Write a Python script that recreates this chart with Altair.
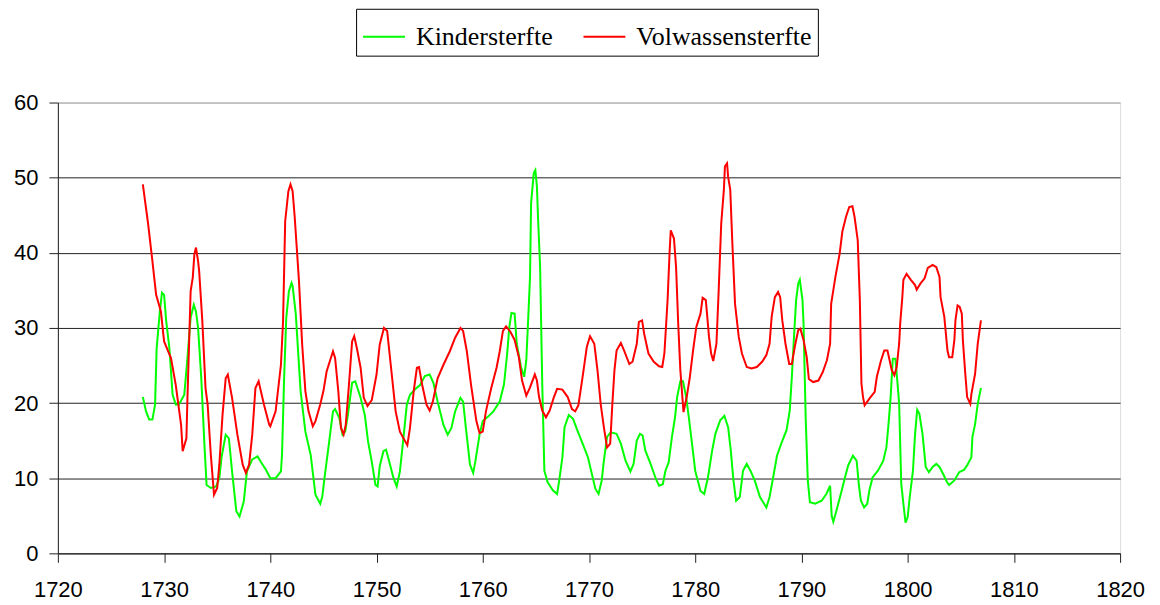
import altair as alt
import pandas as pd

# Kindersterfte (green)
kinder_year = [1728.0, 1728.3, 1728.6, 1728.9, 1729.15, 1729.3, 1729.6, 1729.8, 1730.0, 1730.2, 1730.5, 1730.8,
               1731.1, 1731.4, 1731.9, 1732.2, 1732.5, 1732.8, 1733.0, 1733.2, 1733.5, 1733.8, 1734.0, 1734.4,
               1734.9, 1735.2, 1735.4, 1735.8, 1736.1, 1736.4, 1736.8, 1737.1, 1737.5, 1737.8, 1738.3, 1738.8,
               1739.1, 1739.6, 1740.0, 1740.5, 1741.0, 1741.1, 1741.3, 1741.5, 1741.75, 1742.0, 1742.1, 1742.4,
               1742.85, 1743.3, 1743.8, 1744.25, 1744.7, 1744.9, 1745.1, 1745.5, 1745.9, 1746.1, 1746.5, 1746.8,
               1747.05, 1747.3, 1747.7, 1748.0, 1748.5, 1748.9, 1749.2, 1749.55, 1749.9, 1750.1, 1750.3, 1750.65,
               1750.9, 1751.2, 1751.6, 1751.9, 1752.2, 1752.5, 1752.85, 1753.15, 1753.6, 1754.1, 1754.55, 1755.0,
               1755.35, 1755.75, 1756.3, 1756.7, 1757.05, 1757.4, 1757.9, 1758.15, 1758.45, 1758.8, 1759.1, 1759.3,
               1759.7, 1760.0, 1760.5, 1761.0, 1761.6, 1762.0, 1762.3, 1762.5, 1762.7, 1763.0, 1763.2, 1763.6,
               1763.9, 1764.1, 1764.3, 1764.45, 1764.55, 1764.8, 1764.95, 1765.1, 1765.2, 1765.4, 1765.6, 1765.8,
               1766.1, 1766.6, 1767.0, 1767.2, 1767.5, 1767.7, 1768.1, 1768.5, 1768.9, 1769.4, 1769.9, 1770.3,
               1770.6, 1770.9, 1771.2, 1771.4, 1771.7, 1772.05, 1772.6, 1773.0, 1773.45, 1773.9, 1774.2, 1774.5,
               1774.8, 1775.05, 1775.3, 1775.8, 1776.3, 1776.6, 1776.95, 1777.2, 1777.5, 1777.8, 1778.1, 1778.3,
               1778.6, 1778.85, 1779.15, 1779.4, 1779.7, 1780.0, 1780.5, 1780.85, 1781.2, 1781.6, 1781.9, 1782.35,
               1782.75, 1783.1, 1783.35, 1783.6, 1783.85, 1784.2, 1784.5, 1784.85, 1785.2, 1785.6, 1786.1, 1786.7,
               1787.0, 1787.4, 1787.7, 1788.1, 1788.6, 1788.9, 1789.1, 1789.3, 1789.5, 1789.7, 1789.85, 1790.1,
               1790.2, 1790.4, 1790.6, 1790.8, 1791.3, 1791.9, 1792.35, 1792.7, 1792.85, 1793.0, 1793.3, 1793.8,
               1794.1, 1794.4, 1794.85, 1795.2, 1795.4, 1795.6, 1795.9, 1796.2, 1796.4, 1796.7, 1797.2, 1797.7,
               1798.0, 1798.2, 1798.4, 1798.6, 1798.85, 1799.1, 1799.2, 1799.4, 1799.6, 1799.8, 1800.0, 1800.2,
               1800.5, 1800.7, 1800.9, 1801.1, 1801.4, 1801.7, 1802.0, 1802.35, 1802.7, 1803.0, 1803.4, 1803.7,
               1803.9, 1804.4, 1804.85, 1805.3, 1805.6, 1806.0, 1806.1, 1806.35, 1806.6, 1806.9]
kinder_value = [20.8, 18.9, 17.8, 17.8, 19.8, 27.3, 32.2, 34.7, 34.4, 30.9, 27.3, 21.1,
                19.8, 19.8, 21.1, 26.0, 31.4, 33.1, 32.2, 30.0, 23.3, 14.4, 9.1, 8.7,
                8.9, 10.0, 12.7, 15.8, 15.3, 10.9, 5.6, 4.9, 6.9, 10.9, 12.5, 12.9,
                12.2, 11.1, 10.0, 10.0, 10.9, 13.1, 23.3, 31.3, 34.9, 36.0, 35.6, 31.8,
                21.6, 16.2, 13.1, 7.8, 6.6, 7.6, 10.0, 14.4, 18.9, 19.2, 18.0, 15.8,
                16.2, 18.4, 22.7, 22.9, 20.7, 18.4, 14.9, 12.2, 9.1, 8.9, 11.6, 13.6,
                13.8, 12.2, 10.0, 8.9, 10.9, 14.9, 19.8, 21.1, 21.8, 22.4, 23.6, 23.8,
                22.7, 20.2, 17.1, 15.8, 16.7, 18.9, 20.7, 20.2, 16.2, 11.8, 10.7, 12.2,
                15.8, 17.6, 18.2, 18.9, 20.2, 22.5, 26.6, 30.1, 32.0, 31.9, 27.9, 24.8,
                23.5, 25.7, 31.9, 36.8, 46.6, 50.6, 51.0, 48.8, 44.8, 38.1, 22.6, 11.0,
                9.5, 8.4, 7.9, 9.7, 12.8, 16.8, 18.4, 17.9, 16.4, 14.6, 12.8, 10.4,
                8.6, 7.9, 9.7, 12.3, 15.5, 16.1, 15.9, 14.6, 12.3, 10.9, 11.9, 15.0,
                15.9, 15.7, 13.7, 11.9, 9.9, 9.0, 9.2, 11.0, 12.1, 15.4, 18.1, 20.8,
                22.9, 22.9, 20.8, 18.1, 14.6, 11.0, 8.3, 7.9, 10.1, 13.7, 15.9, 17.7,
                18.3, 16.8, 13.7, 9.7, 7.0, 7.5, 11.0, 11.9, 11.0, 9.7, 7.5, 6.1,
                7.5, 10.6, 13.0, 14.6, 16.4, 19.0, 23.5, 28.8, 33.7, 35.9, 36.4, 33.7,
                30.6, 18.1, 9.7, 6.8, 6.6, 7.0, 7.9, 9.0, 5.0, 4.2, 5.7, 8.4,
                10.1, 11.7, 13.0, 12.3, 9.2, 7.0, 6.1, 6.6, 8.4, 10.1, 11.0, 12.3,
                14.1, 17.2, 20.8, 25.9, 25.9, 21.7, 19.9, 9.2, 6.6, 4.1, 4.8, 7.5,
                11.0, 15.9, 19.1, 18.6, 15.9, 11.5, 10.8, 11.5, 11.9, 11.5, 10.4, 9.5,
                9.1, 9.7, 10.8, 11.1, 11.7, 12.8, 15.5, 17.2, 19.9, 22.0]

# Volwassensterfte (red)
volw_year = [1728.0, 1728.5, 1728.9, 1729.25, 1729.7, 1730.0, 1730.65, 1731.1, 1731.6, 1731.75, 1732.1, 1732.2,
             1732.5, 1732.7, 1732.85, 1733.0, 1733.2, 1733.3, 1733.6, 1733.9, 1734.1, 1734.4, 1734.7, 1735.0,
             1735.2, 1735.5, 1735.8, 1736.0, 1736.4, 1736.9, 1737.4, 1737.7, 1738.0, 1738.3, 1738.6, 1738.9,
             1739.4, 1739.9, 1740.0, 1740.5, 1741.0, 1741.2, 1741.4, 1741.7, 1741.9, 1742.1, 1742.3, 1742.7,
             1743.0, 1743.3, 1743.6, 1744.0, 1744.25, 1744.7, 1745.0, 1745.3, 1745.9, 1746.1, 1746.4, 1746.65,
             1746.9, 1747.1, 1747.4, 1747.7, 1747.9, 1748.15, 1748.5, 1748.8, 1749.15, 1749.55, 1750.0, 1750.3,
             1750.7, 1751.0, 1751.3, 1751.8, 1752.2, 1752.7, 1752.9, 1753.15, 1753.5, 1753.8, 1754.0, 1754.3,
             1754.7, 1755.0, 1755.3, 1755.75, 1756.3, 1756.9, 1757.4, 1757.9, 1758.15, 1758.5, 1758.9, 1759.4,
             1759.7, 1760.0, 1760.3, 1760.8, 1761.3, 1761.6, 1761.9, 1762.2, 1762.6, 1763.0, 1763.4, 1763.7,
             1764.1, 1764.45, 1764.9, 1765.1, 1765.3, 1765.6, 1765.95, 1766.3, 1766.7, 1767.0, 1767.5, 1768.0,
             1768.4, 1768.7, 1769.0, 1769.4, 1769.8, 1770.1, 1770.5, 1770.8, 1771.1, 1771.4, 1771.7, 1772.0,
             1772.2, 1772.4, 1772.6, 1773.0, 1773.3, 1773.8, 1774.1, 1774.5, 1774.7, 1775.0, 1775.2, 1775.6,
             1776.1, 1776.6, 1776.9, 1777.1, 1777.4, 1777.6, 1777.7, 1778.0, 1778.2, 1778.4, 1778.6, 1778.9,
             1779.2, 1779.5, 1779.8, 1780.1, 1780.5, 1780.7, 1781.0, 1781.3, 1781.5, 1781.7, 1782.0, 1782.2,
             1782.45, 1782.7, 1782.8, 1783.0, 1783.1, 1783.3, 1783.5, 1783.75, 1784.1, 1784.4, 1784.85, 1785.3,
             1785.8, 1786.3, 1786.7, 1787.0, 1787.2, 1787.5, 1787.8, 1788.0, 1788.2, 1788.5, 1788.85, 1789.1,
             1789.4, 1789.7, 1789.9, 1790.2, 1790.5, 1790.7, 1791.1, 1791.6, 1792.0, 1792.4, 1792.7, 1792.8,
             1793.2, 1793.6, 1793.85, 1794.2, 1794.5, 1794.8, 1795.0, 1795.3, 1795.5, 1795.65, 1795.8, 1795.95,
             1796.4, 1796.9, 1797.1, 1797.5, 1797.8, 1798.1, 1798.3, 1798.5, 1798.75, 1798.97, 1799.2, 1799.3,
             1799.5, 1799.6, 1799.9, 1800.3, 1800.7, 1800.85, 1801.2, 1801.6, 1801.9, 1802.35, 1802.7, 1803.0,
             1803.1, 1803.45, 1803.75, 1803.9, 1804.2, 1804.4, 1804.5, 1804.7, 1804.9, 1805.1, 1805.2, 1805.4,
             1805.6, 1805.9, 1806.0, 1806.35, 1806.6, 1806.9]
volw_value = [49.1, 43.8, 38.9, 34.4, 32.2, 28.2, 26.0, 22.4, 17.1, 13.6, 15.3, 20.7,
              34.9, 36.7, 39.8, 40.7, 38.9, 37.6, 30.9, 22.0, 19.8, 13.1, 7.8, 8.7,
              11.8, 18.4, 23.3, 23.8, 20.7, 15.8, 11.8, 10.7, 11.8, 15.8, 22.0, 22.9,
              19.8, 17.1, 16.9, 18.9, 25.1, 30.9, 44.2, 48.2, 49.1, 48.2, 44.7, 36.2,
              27.8, 21.6, 18.9, 16.9, 17.6, 19.8, 21.6, 24.2, 26.9, 26.0, 21.6, 16.7,
              15.8, 17.1, 22.4, 28.2, 28.9, 27.3, 24.7, 20.7, 19.6, 20.4, 23.8, 27.8,
              30.0, 29.6, 25.6, 18.9, 16.2, 14.9, 14.4, 16.7, 21.6, 24.7, 24.8, 22.4,
              19.8, 19.0, 20.2, 23.3, 25.1, 26.9, 28.7, 30.0, 29.6, 26.9, 22.4, 17.6,
              16.0, 16.2, 18.9, 22.0, 24.7, 26.9, 29.6, 30.2, 29.5, 28.4, 26.1, 23.0,
              21.0, 22.1, 23.8, 23.0, 20.8, 19.0, 18.1, 19.0, 20.8, 21.9, 21.8, 20.8,
              19.2, 18.9, 19.7, 23.5, 27.5, 28.9, 27.9, 24.4, 19.9, 16.8, 14.1, 14.6,
              19.9, 24.4, 27.0, 28.0, 27.0, 25.2, 25.5, 27.9, 30.8, 31.0, 29.2, 26.6,
              25.5, 24.9, 24.8, 26.6, 33.7, 40.4, 43.0, 41.9, 38.1, 30.6, 24.4, 18.8,
              20.8, 23.5, 27.0, 30.1, 31.9, 34.0, 33.7, 28.8, 26.6, 25.6, 27.9, 34.6,
              43.9, 48.4, 51.5, 51.9, 50.1, 48.4, 41.2, 33.2, 28.8, 26.6, 24.8, 24.6,
              24.8, 25.5, 26.4, 27.9, 31.5, 34.1, 34.8, 34.1, 31.0, 27.9, 25.2, 25.2,
              27.7, 29.7, 29.9, 28.4, 26.1, 23.2, 22.8, 23.0, 24.1, 25.7, 27.9, 33.2,
              36.8, 39.9, 42.8, 44.8, 46.1, 46.2, 44.8, 41.7, 33.7, 22.6, 20.8, 19.7,
              20.6, 21.5, 23.5, 25.7, 27.0, 27.0, 25.7, 24.4, 23.7, 24.8, 27.9, 30.6,
              34.1, 36.4, 37.2, 36.4, 35.7, 35.1, 35.9, 36.6, 38.0, 38.4, 38.1, 36.8,
              34.1, 31.5, 27.0, 26.1, 26.1, 28.4, 31.0, 33.0, 32.8, 31.9, 28.4, 24.4,
              20.8, 19.9, 21.2, 23.9, 27.9, 31.0]

series_names = ["Kindersterfte", "Volwassensterfte"]
series_colors = ["#00FF00", "#FF0000"]
x_ticks = list(range(1720, 1821, 10))
y_ticks = list(range(0, 61, 10))

df = pd.concat([
    pd.DataFrame({"jaar": kinder_year, "waarde": kinder_value, "reeks": series_names[0], "volg": range(len(kinder_year))}),
    pd.DataFrame({"jaar": volw_year, "waarde": volw_value, "reeks": series_names[1], "volg": range(len(volw_year))}),
])

chart = alt.Chart(df).mark_line(strokeWidth=2, interpolate="linear").encode(
    x=alt.X("jaar:Q",
            scale=alt.Scale(domain=[1720, 1820], nice=False, zero=False),
            axis=alt.Axis(values=x_ticks, format="d", title=None, grid=False,
                          domainColor="#222222", tickColor="#222222", tickSize=9,
                          labelFont="Liberation Sans", labelFontSize=22, labelColor="#000000",
                          labelPadding=17, labelFlush=False)),
    y=alt.Y("waarde:Q",
            scale=alt.Scale(domain=[0, 60], nice=False),
            axis=alt.Axis(values=y_ticks, title=None, grid=True,
                          gridColor={"condition": {"test": "datum.value === 60", "value": "#999999"},
                                     "value": "#222222"},
                          gridWidth=1,
                          domainColor="#222222", tickColor="#222222", tickSize=9,
                          labelFont="Liberation Sans", labelFontSize=22, labelColor="#000000",
                          labelPadding=11)),
    color=alt.Color("reeks:N",
                    scale=alt.Scale(domain=series_names, range=series_colors),
                    legend=alt.Legend(title=None, orient="none", legendX=299, legendY=-94,
                                      direction="horizontal", strokeColor="#000000", fillColor="#FFFFFF",
                                      padding=6, symbolType="stroke", symbolSize=1764,
                                      symbolStrokeWidth=2, labelFont="Liberation Serif",
                                      labelFontSize=26, labelColor="#000000", labelOffset=10,
                                      columnPadding=26, labelLimit=400)),
    order="volg:Q",
).properties(
    width=1065,
    height=452,
    autosize=alt.AutoSizeParams(type="none"),
    padding={"left": 50, "top": 94, "right": 32, "bottom": 50},
).configure_view(
    stroke="#999999", strokeWidth=1
).configure(background="#FFFFFF")

chart.save("out.html", embed_options={"renderer": "svg", "actions": False})
